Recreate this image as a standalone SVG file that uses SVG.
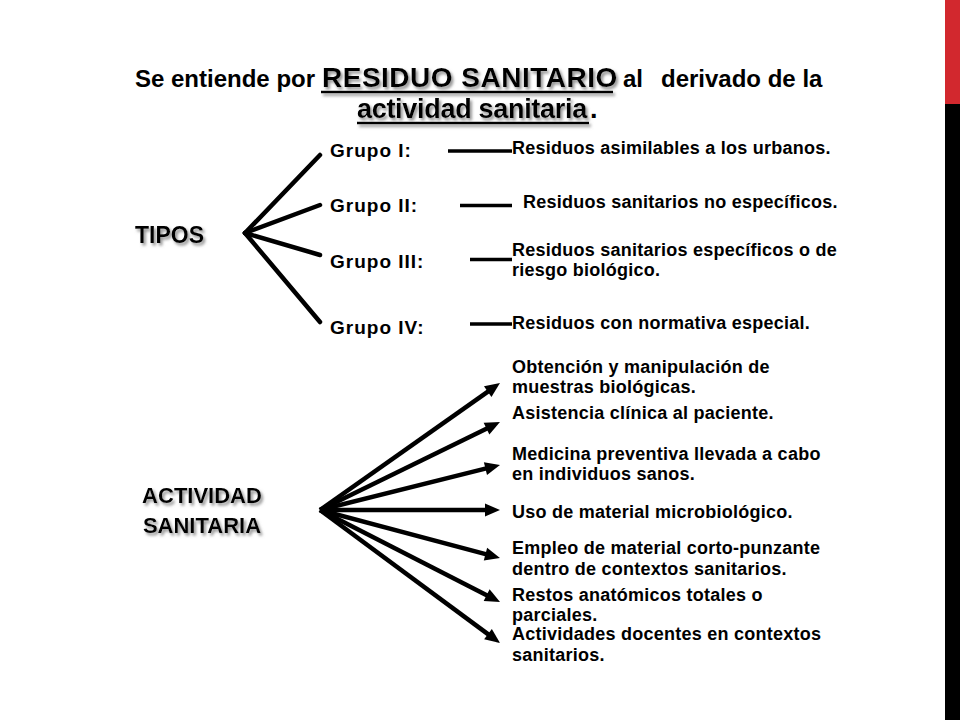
<svg xmlns="http://www.w3.org/2000/svg" width="960" height="720" viewBox="0 0 960 720">
  <defs>
    <filter id="shadow" x="-10%" y="-30%" width="130%" height="170%">
      <feDropShadow dx="2" dy="2.5" stdDeviation="1.4" flood-color="#7a7a7a" flood-opacity="0.85"/>
    </filter>
    <marker id="arrow" markerUnits="userSpaceOnUse" markerWidth="16" markerHeight="14" refX="0" refY="0" orient="auto" overflow="visible">
      <path d="M-5,-6.5 L10,0 L-5,6.5 z" fill="#000"/>
    </marker>
    <style>
      text { font-family: "Liberation Sans", Arial, sans-serif; font-weight: bold; fill: #000; }
      .t1 { font-size: 24px; }
      .big { font-size: 28px; letter-spacing: 0.5px; }
      .t2 { font-size: 27px; letter-spacing: -0.3px; }
      .head { font-size: 22px; }
      .grp { font-size: 19px; letter-spacing: 1px; }
      .desc { font-size: 18px; letter-spacing: 0.25px; }
      .fan { stroke: #000; stroke-width: 4.5; stroke-linecap: round; fill: none; }
      .dash { stroke: #000; stroke-width: 3.5; fill: none; }
      .arr { stroke: #000; stroke-width: 4.5; fill: none; marker-end: url(#arrow); }
      .ul { stroke: #000; stroke-width: 2.5; }
    </style>
  </defs>

  <rect width="960" height="720" fill="#fff"/>

  <g id="sidebar">
    <rect x="945" y="0" width="15" height="104" fill="#d2282e"/>
    <rect x="945" y="104" width="15" height="616" fill="#000"/>
  </g>

  <g id="title">
    <text class="t1" x="135" y="87">Se entiende por</text>
    <g filter="url(#shadow)">
      <text class="big" x="322" y="87">RESIDUO SANITARIO</text>
      <line class="ul" x1="321" y1="92" x2="613" y2="92"/>
    </g>
    <text class="t1" x="623" y="87">al</text>
    <text class="t1" x="661" y="87">derivado de la</text>
    <g filter="url(#shadow)">
      <text class="t2" x="357" y="118">actividad sanitaria</text>
      <line class="ul" x1="357" y1="123" x2="589" y2="123"/>
    </g>
    <text class="t2" x="590" y="118">.</text>
  </g>

  <g id="connectors">
    <line class="fan" x1="245" y1="233" x2="320" y2="155"/>
    <line class="fan" x1="245" y1="233" x2="320" y2="205"/>
    <line class="fan" x1="245" y1="233" x2="320" y2="255"/>
    <line class="fan" x1="245" y1="233" x2="320" y2="322"/>

    <line class="dash" x1="448" y1="151" x2="512" y2="151"/>
    <line class="dash" x1="460" y1="205.5" x2="512" y2="205.5"/>
    <line class="dash" x1="470" y1="259.5" x2="512" y2="259.5"/>
    <line class="dash" x1="470" y1="324" x2="512" y2="324"/>

    <line class="arr" x1="320" y1="510" x2="491.8" y2="388.8"/>
    <line class="arr" x1="320" y1="510" x2="491.0" y2="426.4"/>
    <line class="arr" x1="320" y1="510" x2="490.3" y2="467.4"/>
    <line class="arr" x1="320" y1="510" x2="490" y2="510"/>
    <line class="arr" x1="320" y1="510" x2="490.3" y2="555.4"/>
    <line class="arr" x1="320" y1="510" x2="491.1" y2="597.4"/>
    <line class="arr" x1="320" y1="510" x2="492.0" y2="637.1"/>
  </g>

  <g id="tipos">
    <text class="head" x="135" y="243" filter="url(#shadow)" style="font-size:23px">TIPOS</text>
  </g>

  <g id="grupo1">
    <text class="grp" x="330" y="157">Grupo I:</text>
    <text class="desc" x="512" y="154">Residuos asimilables a los urbanos.</text>
  </g>
  <g id="grupo2">
    <text class="grp" x="330" y="212">Grupo II:</text>
    <text class="desc" x="523" y="208">Residuos sanitarios no específicos.</text>
  </g>
  <g id="grupo3">
    <text class="grp" x="330" y="268">Grupo III:</text>
    <text class="desc" x="512" y="256">Residuos sanitarios específicos o de</text>
    <text class="desc" x="512" y="276">riesgo biológico.</text>
  </g>
  <g id="grupo4">
    <text class="grp" x="330" y="334">Grupo IV:</text>
    <text class="desc" x="512" y="329">Residuos con normativa especial.</text>
  </g>

  <g id="actividad">
    <text class="head" x="202" y="503" text-anchor="middle" filter="url(#shadow)">ACTIVIDAD</text>
    <text class="head" x="202" y="533" text-anchor="middle" filter="url(#shadow)">SANITARIA</text>
  </g>

  <g id="item1">
    <text class="desc" x="512" y="373">Obtención y manipulación de</text>
    <text class="desc" x="512" y="393">muestras biológicas.</text>
  </g>
  <g id="item2">
    <text class="desc" x="512" y="419">Asistencia clínica al paciente.</text>
  </g>
  <g id="item3">
    <text class="desc" x="512" y="460">Medicina preventiva llevada a cabo</text>
    <text class="desc" x="512" y="480">en individuos sanos.</text>
  </g>
  <g id="item4">
    <text class="desc" x="512" y="518">Uso de material microbiológico.</text>
  </g>
  <g id="item5">
    <text class="desc" x="512" y="554">Empleo de material corto-punzante</text>
    <text class="desc" x="512" y="575">dentro de contextos sanitarios.</text>
  </g>
  <g id="item6">
    <text class="desc" x="512" y="601">Restos anatómicos totales o</text>
    <text class="desc" x="512" y="621">parciales.</text>
  </g>
  <g id="item7">
    <text class="desc" x="512" y="640">Actividades docentes en contextos</text>
    <text class="desc" x="512" y="661">sanitarios.</text>
  </g>
</svg>
